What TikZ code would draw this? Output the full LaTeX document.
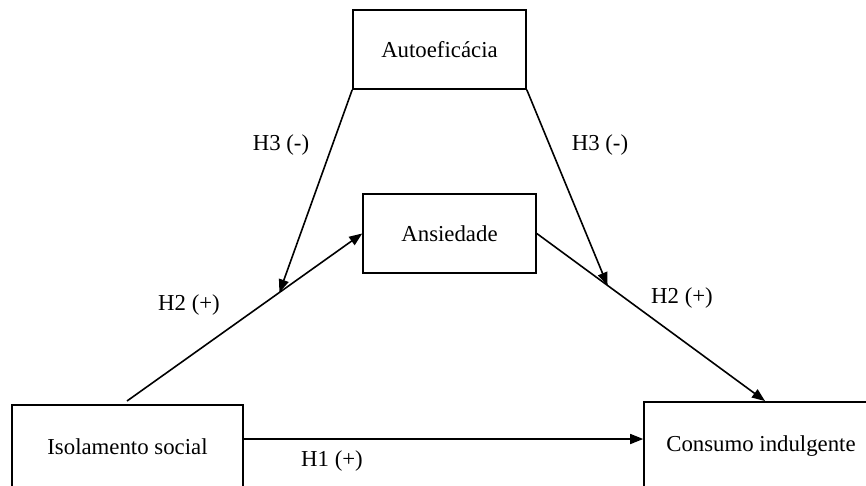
\documentclass[tikz,border=0pt]{standalone}
\usepackage{fontspec}
\setmainfont{Liberation Serif}
\usetikzlibrary{arrows.meta,calc}
\begin{document}
\begin{tikzpicture}[x=1pt,y=-1pt,
  box/.style={draw, line width=1.6pt, rectangle, inner sep=0pt, align=center},
  arr/.style={line width=1.6pt, -{Triangle[length=13pt,width=10pt]}},
  lbl/.style={inner sep=0pt},
  every node/.style={font=\fontsize{22.8}{27}\selectfont}]
\useasboundingbox (0,0) rectangle (866,485);
\clip (0,0) rectangle (866,485);
\fill[white] (0,0) rectangle (866,485);

\node[box, minimum width=173pt, minimum height=79pt] (auto) at (439.5,49.5) {Autoeficácia};
\node[box, minimum width=173pt, minimum height=79pt] (ans) at (449.5,233.5) {Ansiedade};
\node[box, minimum width=231pt, minimum height=84pt] (iso) at (127.5,447) {Isolamento social};
\node[box, minimum width=234pt, minimum height=88pt] (con) at (761,446) {Consumo indulgente};

\coordinate (s1) at (127,401);
\coordinate (e2) at (765,401);
\coordinate (h1) at (0,439);

\draw[arr] (s1) -- (ans.west);
\draw[arr] (ans.east) -- (e2);
\draw[arr] (iso.east |- h1) -- (con.west |- h1);

\coordinate (m1) at ($(s1)!0.648!(ans.west)$);
\coordinate (m2) at ($(ans.east)!0.31!(e2)$);
\draw[arr] (auto.south west) -- (m1);
\draw[arr] (auto.south east) -- (m2);

\node[lbl] (l1) at (281,145) {H3 (-)};
\node[lbl] (l2) at (600,145) {H3 (-)};
\node[lbl] (l3) at (189,305) {H2 (+)};
\node[lbl] (l4) at (682,298) {H2 (+)};
\node[lbl] (l5) at (332,461) {H1 (+)};
\end{tikzpicture}
\end{document}
